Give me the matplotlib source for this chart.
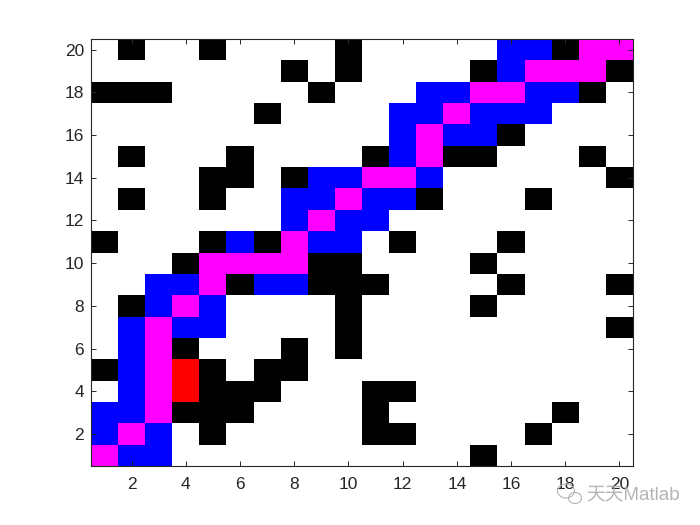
import numpy as np
import matplotlib
matplotlib.use("Agg")
import matplotlib.pyplot as plt
from matplotlib.colors import ListedColormap
from matplotlib.patches import Ellipse

plt.rcParams["font.family"] = ["Liberation Sans", "Noto Sans CJK SC", "DejaVu Sans"]

# 0 white, 1 black, 2 blue, 3 magenta, 4 red; rows listed from y=20 down to y=1
ROW_20 = [0, 1, 0, 0, 1, 0, 0, 0, 0, 1, 0, 0, 0, 0, 0, 2, 2, 1, 3, 3]
ROW_19 = [0, 0, 0, 0, 0, 0, 0, 1, 0, 1, 0, 0, 0, 0, 1, 2, 3, 3, 3, 1]
ROW_18 = [1, 1, 1, 0, 0, 0, 0, 0, 1, 0, 0, 0, 2, 2, 3, 3, 2, 2, 1, 0]
ROW_17 = [0, 0, 0, 0, 0, 0, 1, 0, 0, 0, 0, 2, 2, 3, 2, 2, 2, 0, 0, 0]
ROW_16 = [0, 0, 0, 0, 0, 0, 0, 0, 0, 0, 0, 2, 3, 2, 2, 1, 0, 0, 0, 0]
ROW_15 = [0, 1, 0, 0, 0, 1, 0, 0, 0, 0, 1, 2, 3, 1, 1, 0, 0, 0, 1, 0]
ROW_14 = [0, 0, 0, 0, 1, 1, 0, 1, 2, 2, 3, 3, 2, 0, 0, 0, 0, 0, 0, 1]
ROW_13 = [0, 1, 0, 0, 1, 0, 0, 2, 2, 3, 2, 2, 1, 0, 0, 0, 1, 0, 0, 0]
ROW_12 = [0, 0, 0, 0, 0, 0, 0, 2, 3, 2, 2, 0, 0, 0, 0, 0, 0, 0, 0, 0]
ROW_11 = [1, 0, 0, 0, 1, 2, 1, 3, 2, 2, 0, 1, 0, 0, 0, 1, 0, 0, 0, 0]
ROW_10 = [0, 0, 0, 1, 3, 3, 3, 3, 1, 1, 0, 0, 0, 0, 1, 0, 0, 0, 0, 0]
ROW_09 = [0, 0, 2, 2, 3, 1, 2, 2, 1, 1, 1, 0, 0, 0, 0, 1, 0, 0, 0, 1]
ROW_08 = [0, 1, 2, 3, 2, 0, 0, 0, 0, 1, 0, 0, 0, 0, 1, 0, 0, 0, 0, 0]
ROW_07 = [0, 2, 3, 2, 2, 0, 0, 0, 0, 1, 0, 0, 0, 0, 0, 0, 0, 0, 0, 1]
ROW_06 = [0, 2, 3, 1, 0, 0, 0, 1, 0, 1, 0, 0, 0, 0, 0, 0, 0, 0, 0, 0]
ROW_05 = [1, 2, 3, 4, 1, 0, 1, 1, 0, 0, 0, 0, 0, 0, 0, 0, 0, 0, 0, 0]
ROW_04 = [0, 2, 3, 4, 1, 1, 1, 0, 0, 0, 1, 1, 0, 0, 0, 0, 0, 0, 0, 0]
ROW_03 = [2, 2, 3, 1, 1, 1, 0, 0, 0, 0, 1, 0, 0, 0, 0, 0, 0, 1, 0, 0]
ROW_02 = [2, 3, 2, 0, 1, 0, 0, 0, 0, 0, 1, 1, 0, 0, 0, 0, 1, 0, 0, 0]
ROW_01 = [3, 2, 2, 0, 0, 0, 0, 0, 0, 0, 0, 0, 0, 0, 1, 0, 0, 0, 0, 0]

COLORS = ["white", "black", "#0000ff", "#ff00ff", "#ff0000"]
TICKS = [2, 4, 6, 8, 10, 12, 14, 16, 18, 20]

grid = np.array([ROW_20, ROW_19, ROW_18, ROW_17, ROW_16, ROW_15, ROW_14, ROW_13, ROW_12, ROW_11,
                 ROW_10, ROW_09, ROW_08, ROW_07, ROW_06, ROW_05, ROW_04, ROW_03, ROW_02, ROW_01])

fig = plt.figure(figsize=(7, 5.25), dpi=100, facecolor="white")
ax = fig.add_axes([91 / 700, 1 - 466 / 525, 542 / 700, 427 / 525])
ax.imshow(grid[::-1], origin="lower", aspect="auto", cmap=ListedColormap(COLORS), vmin=0, vmax=4,
          extent=(0.5, 20.5, 0.5, 20.5), interpolation="nearest")
ax.set_xticks(TICKS)
ax.set_yticks(TICKS)
ax.tick_params(direction="in", top=True, right=True, length=3.6, width=0.7, color="#262626",
               labelcolor="#262626", labelsize=12.5)
ax.tick_params(axis="x", pad=8)
ax.tick_params(axis="y", pad=5)
for s in ax.spines.values():
    s.set_linewidth(0.8)
    s.set_color("#262626")

# watermark
fig.text(586 / 700, 1 - 495 / 525, "天天Matlab", fontsize=13.5, color="#a8a8a8", alpha=0.85,
         ha="left", va="center")
for (cx, cy, w, h) in [(566, 491, 17, 14), (575, 498, 13, 11)]:
    fig.add_artist(Ellipse((cx / 700, 1 - cy / 525), w / 700, h / 525, transform=fig.transFigure,
                           fill=False, ec="#b5b5b5", lw=0.8))

fig.savefig("out.png", dpi=100)
